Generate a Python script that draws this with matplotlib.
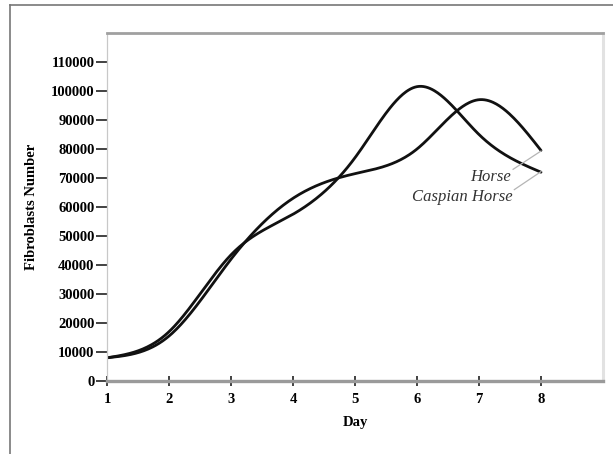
import numpy as np
import matplotlib
matplotlib.use("Agg")
import matplotlib.pyplot as plt
from matplotlib.lines import Line2D

days = [1, 2, 3, 4, 5, 6, 7, 8]
horse = [8000, 15500, 42000, 63000, 71500, 80000, 97000, 79500]
caspian = [8000, 17000, 43500, 57500, 77000, 101500, 85000, 72000]
y_ticks = [0, 10000, 20000, 30000, 40000, 50000, 60000, 70000, 80000, 90000, 100000, 110000]
series_names = ["Horse", "Caspian Horse"]


def natural_spline(x, y, n=400):
    x = np.asarray(x, float)
    y = np.asarray(y, float)
    k = len(x)
    h = np.diff(x)
    A = np.zeros((k, k))
    b = np.zeros(k)
    A[0, 0] = 1
    A[-1, -1] = 1
    for i in range(1, k - 1):
        A[i, i - 1] = h[i - 1]
        A[i, i] = 2 * (h[i - 1] + h[i])
        A[i, i + 1] = h[i]
        b[i] = 6 * ((y[i + 1] - y[i]) / h[i] - (y[i] - y[i - 1]) / h[i - 1])
    M = np.linalg.solve(A, b)
    xs = np.linspace(x[0], x[-1], n)
    ys = np.empty_like(xs)
    for j, t in enumerate(xs):
        i = min(np.searchsorted(x, t, side="right") - 1, k - 2)
        dx = x[i + 1] - x[i]
        a = (x[i + 1] - t) / dx
        c = (t - x[i]) / dx
        ys[j] = (a * y[i] + c * y[i + 1]
                 + ((a ** 3 - a) * M[i] + (c ** 3 - c) * M[i + 1]) * dx * dx / 6)
    return xs, ys


plt.rcParams["font.family"] = ["Liberation Serif", "DejaVu Serif"]

fig = plt.figure(figsize=(6.13, 4.54), dpi=100)
ax = fig.add_axes([107 / 613, 1 - 381 / 454, (603 - 107) / 613, (381 - 33) / 454])

for vals in (horse, caspian):
    xs, ys = natural_spline(days, vals)
    ax.plot(xs, ys, color="#111111", lw=2.0, solid_capstyle="round")

ax.set_xlim(1, 9)
ax.set_ylim(0, 120000)
ax.set_xticks(days)
ax.set_xticklabels([str(d) for d in days], fontweight="bold", fontsize=10.5)
ax.set_yticks(y_ticks)
ax.set_yticklabels([str(v) for v in y_ticks], fontweight="bold", fontsize=10.5)
ax.tick_params(axis="y", direction="out", length=8, width=1.3, color="#333333", pad=1)
ax.tick_params(axis="x", direction="inout", length=7, width=1.3, color="#333333", pad=5)

ax.spines["bottom"].set_color("#9a9a9a")
ax.spines["bottom"].set_linewidth(2.4)
ax.spines["left"].set_color("#c8c8c8")
ax.spines["left"].set_linewidth(0.9)
ax.spines["top"].set_color("#a0a0a0")
ax.spines["top"].set_linewidth(2.0)
ax.spines["right"].set_color("#e2e2e2")
ax.spines["right"].set_linewidth(2.2)

ax.set_xlabel("Day", fontweight="bold", fontsize=10.5, labelpad=7)
ax.set_ylabel("Fibroblasts Number", fontweight="bold", fontsize=10.5, labelpad=9)

# labels with leader lines
ax.text(7.52, 70200, series_names[0], ha="right", va="center", style="italic",
        fontsize=12, color="#333333")
ax.text(7.55, 63300, series_names[1], ha="right", va="center", style="italic",
        fontsize=12, color="#333333")
ax.plot([7.55, 8.0], [73000, 79300], color="#b5b5b5", lw=0.9)
ax.plot([7.57, 8.0], [66000, 72200], color="#b5b5b5", lw=0.9)

# outer frame
fig.add_artist(Line2D([10 / 613, 1], [1 - 5 / 454, 1 - 5 / 454], transform=fig.transFigure,
                      color="#777777", lw=1.2))
fig.add_artist(Line2D([10 / 613, 10 / 613], [0, 1 - 5 / 454], transform=fig.transFigure,
                      color="#777777", lw=1.2))

fig.savefig("out.png", dpi=100)
